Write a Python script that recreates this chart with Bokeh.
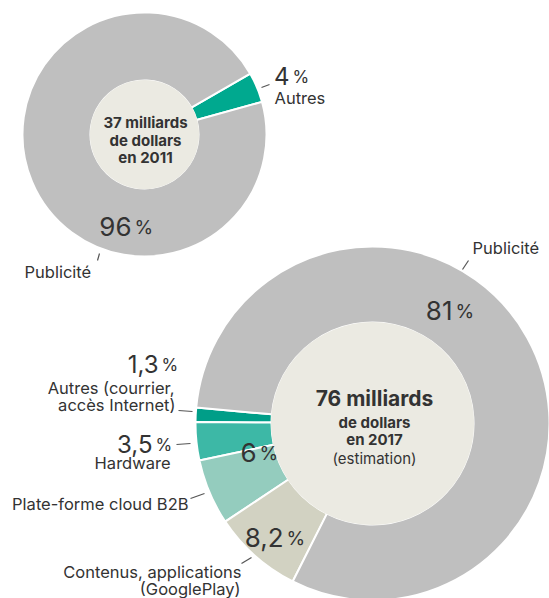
import numpy as np
from bokeh.plotting import figure
from bokeh.models import Range1d
from bokeh.core.properties import value
from bokeh.embed import file_html
from bokeh.resources import INLINE

# ---------------- data ----------------
top_categories = ["Autres", "Publicité"]
top_values = [4, 96]
top_pct_labels = ["4", "96"]
top_center = ["37 milliards", "de dollars", "en 2011"]

bottom_categories = ["Autres (courrier, accès Internet)", "Hardware",
                     "Plate-forme cloud B2B", "Contenus, applications (GooglePlay)",
                     "Publicité"]
bottom_values = [1.3, 3.5, 6, 8.2, 81]
bottom_pct_labels = ["1,3", "3,5", "6", "8,2", "81"]
bottom_center = ["76 milliards", "de dollars", "en 2017", "(estimation)"]

# ---------------- style ----------------
top_colors = ["#00a98f", "#bfbfbf"]
bottom_colors = ["#009e88", "#3db8a6", "#94ccbe", "#d2d2c2", "#bfbfbf"]
INNER_FILL = "#ebeae2"
TXT = "#333333"
FONT = value("Inter")
LBL = 16.5

W, H = 549, 598
p = figure(width=W, height=H, x_range=Range1d(0, W), y_range=Range1d(0, H),
           output_backend="svg", toolbar_location=None, min_border=0,
           x_axis_type=None, y_axis_type=None)
p.grid.visible = False
p.outline_line_color = None
p.background_fill_color = "white"
p.border_fill_color = "white"


def Y(yi):
    return H - yi


def donut(cx, cy, r_in, r_out, vals, colors, start_deg):
    frac = np.array(vals, dtype=float) / sum(vals)
    ends = start_deg + np.cumsum(frac) * 360
    starts = np.concatenate([[start_deg], ends[:-1]])
    p.annular_wedge(x=[cx] * len(vals), y=[Y(cy)] * len(vals),
                    inner_radius=r_in, outer_radius=r_out,
                    start_angle=list(starts), end_angle=list(ends),
                    start_angle_units="deg", end_angle_units="deg",
                    fill_color=colors, line_color="white", line_width=2)
    p.circle(x=[cx], y=[Y(cy)], radius=r_in + 0.6, fill_color=INNER_FILL,
             line_color=None)


def txt(x, y, s, size, align="left", bold=False, color=TXT, baseline="middle"):
    p.text(x=[x], y=[Y(y)], text=[s], text_font=FONT,
           text_font_size=f"{size}px", text_align=align,
           text_baseline=baseline, text_color=color,
           text_font_style="bold" if bold else "normal")


def pct(x_right, y, num, size=25):
    txt(x_right, y, num, size, align="right")
    txt(x_right + 3, y + 1, "%", int(size * 0.74), align="left")


def tick(x0, y0, x1, y1):
    p.line(x=[x0, x1], y=[Y(y0), Y(y1)], line_color="#555555", line_width=1.2)


# ---------------- top donut ----------------
donut(144, 134, 54, 122, top_values, top_colors, 15.5)
txt(145, 122, top_center[0], 15, align="center", bold=True)
txt(145, 140, top_center[1], 15, align="center", bold=True)
txt(145, 157, top_center[2], 15, align="center", bold=True)

pct(289, 75, top_pct_labels[0], 24)
txt(274, 97, top_categories[0], LBL)
tick(261, 87, 269, 84)

pct(131, 226, top_pct_labels[1], 26)
tick(99, 253, 97, 260)
txt(24, 271, top_categories[1], LBL)

# ---------------- bottom donut ----------------
donut(372, 423, 101, 177, bottom_values, bottom_colors, 174.8)
txt(374, 398, bottom_center[0], 21, align="center", bold=True, color="#333333")
txt(374, 422, bottom_center[1], 15, align="center", bold=True)
txt(374, 439, bottom_center[2], 15, align="center", bold=True)
txt(374, 458, bottom_center[3], 15, align="center")

# Publicité 81 %
txt(472, 247, "Publicité", LBL)
tick(468, 260, 462, 269)
pct(452, 310, bottom_pct_labels[4], 26)

# Autres 1,3 %
pct(158, 363, bottom_pct_labels[0], 24)
txt(174, 387, "Autres (courrier,", LBL, align="right")
txt(175, 404, "accès Internet)", LBL, align="right")
tick(178, 410, 192, 411)

# Hardware 3,5 %
pct(152, 443, bottom_pct_labels[1], 24)
txt(170, 462, bottom_categories[1], LBL, align="right")
tick(176, 444, 190, 443)

# Cloud 6 %
pct(256, 452, bottom_pct_labels[2], 26)
txt(188, 503, bottom_categories[2], LBL, align="right")
tick(190, 498, 204, 493)

# Contenus 8,2 %
pct(283, 537, bottom_pct_labels[3], 26)
txt(241, 571, "Contenus, applications", LBL, align="right")
txt(240, 588, "(GooglePlay)", LBL, align="right")
tick(241, 563, 251, 557)

open("out.html", "w").write(file_html(p, INLINE))
